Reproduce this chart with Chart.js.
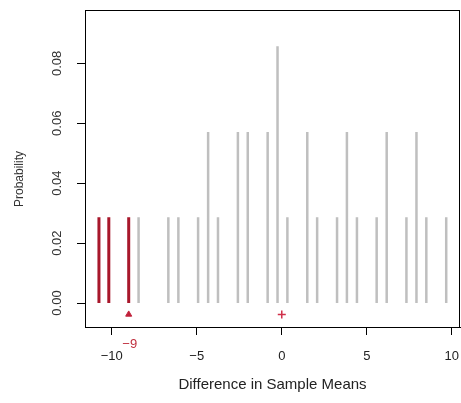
<!DOCTYPE html>
<html>
<head>
<meta charset="utf-8">
<script src="https://cdn.jsdelivr.net/npm/chart.js@4"></script>
<style>
  html, body { margin: 0; padding: 0; background: #fff; }
  #wrap { width: 461px; height: 403px; }
</style>
</head>
<body>
<div id="wrap"><canvas id="myChart"></canvas></div>
<script>
// permutation distribution of the difference in sample means
const diffs = [-10.75, -10.17, -9.0, -8.42, -6.67, -6.08, -4.92, -4.33, -3.75, -2.58, -2.0, -0.83, -0.25,
  0.33, 1.5, 2.08, 3.25, 3.83, 4.42, 5.58, 6.17, 7.33, 7.92, 8.5, 9.67];
const probs = [0.0286, 0.0286, 0.0286, 0.0286, 0.0286, 0.0286, 0.0286, 0.0571, 0.0286, 0.0571, 0.0571, 0.0571, 0.0857,
  0.0286, 0.0571, 0.0286, 0.0286, 0.0571, 0.0286, 0.0286, 0.0571, 0.0286, 0.0571, 0.0286, 0.0286];
const observed = -9;
const meanDiff = 0;
const xTicks = [-10, -5, 0, 5, 10];
const yTicks = [0, 0.02, 0.04, 0.06, 0.08];

const FONT = "'Liberation Sans', Arial, sans-serif";
const RED = "#a8172b";

// each spike is a little segment from 0 up to its probability, split by a gap
function spikes(keep) {
  const pts = [];
  diffs.forEach((d, i) => {
    if (!keep(d)) return;
    pts.push({ x: d, y: 0 }, { x: d, y: probs[i] }, { x: d, y: null });
  });
  return pts;
}

const boxPlugin = {
  id: "box",
  afterDraw(chart) {
    const ctx = chart.ctx;
    const a = chart.chartArea;
    const ys = chart.scales.y;
    const xs = chart.scales.x;
    ctx.save();
    ctx.strokeStyle = "#000";
    ctx.lineWidth = 1;
    ctx.strokeRect(a.left + 0.5, a.top + 0.5, a.right - a.left - 1, a.bottom - a.top);

    // rotated y tick labels, like R's default
    ctx.fillStyle = "#333";
    ctx.font = "13px " + FONT;
    ctx.textAlign = "center";
    ctx.textBaseline = "middle";
    yTicks.forEach(v => {
      ctx.save();
      ctx.translate(57, ys.getPixelForValue(v));
      ctx.rotate(-Math.PI / 2);
      ctx.fillText(v.toFixed(2), 0, 0);
      ctx.restore();
    });
    ctx.font = "12px " + FONT;
    ctx.save();
    ctx.translate(20, 179);
    ctx.rotate(-Math.PI / 2);
    ctx.fillText("Probability", 0, 0);
    ctx.restore();

    // observed value label under the axis
    ctx.fillStyle = "#c0303f";
    ctx.font = "13px " + FONT;
    ctx.fillText("\u22129", xs.getPixelForValue(observed) + 1, 344);
    ctx.restore();
  }
};

const config = {
  type: "scatter",
  data: {
    datasets: [
      {
        label: "permutations",
        data: spikes(d => d > observed),
        showLine: true,
        spanGaps: false,
        borderColor: "#bfbfbf",
        borderWidth: 2.5,
        pointRadius: 0,
      },
      {
        label: "as extreme",
        data: spikes(d => d <= observed),
        showLine: true,
        spanGaps: false,
        borderColor: RED,
        borderWidth: 3,
        pointRadius: 0,
      },
      {
        label: "observed",
        data: [{ x: observed, y: -0.0038 }],
        pointStyle: "triangle",
        pointRadius: 3.5,
        backgroundColor: "#c0203a",
        borderColor: "#c0203a",
        borderWidth: 1,
      },
      {
        label: "mean",
        data: [{ x: meanDiff, y: -0.0038 }],
        pointStyle: "cross",
        pointRadius: 4,
        borderColor: "#d0304a",
        borderWidth: 1.5,
      },
    ],
  },
  options: {
    responsive: true,
    maintainAspectRatio: false,
    animation: false,
    layout: { autoPadding: false, padding: { top: 10, right: 1, left: 0, bottom: 0 } },
    plugins: { legend: { display: false }, tooltip: { enabled: false } },
    scales: {
      x: {
        type: "linear",
        min: -11.57,
        max: 10.48,
        afterBuildTicks: s => { s.ticks = xTicks.map(v => ({ value: v })); },
        afterFit: s => { s.height = 76; s.paddingLeft = 0; s.paddingRight = 0; },
        grid: { drawOnChartArea: false, drawTicks: true, tickLength: 8, color: "#000" },
        border: { color: "#000", width: 1 },
        ticks: {
          color: "#222",
          padding: 14,
          font: { family: FONT, size: 13 },
          callback: v => String(v).replace("-", "\u2212"),
        },
        title: {
          display: true,
          text: "Difference in Sample Means",
          color: "#222",
          font: { family: FONT, size: 15 },
          padding: { top: 8, bottom: 9 },
        },
      },
      y: {
        type: "linear",
        min: -0.008,
        max: 0.0978,
        afterBuildTicks: s => { s.ticks = yTicks.map(v => ({ value: v })); },
        afterFit: s => { s.width = 85; s.paddingTop = 0; s.paddingBottom = 0; },
        grid: { drawOnChartArea: false, drawTicks: true, tickLength: 8, color: "#000" },
        border: { color: "#000", width: 1 },
        ticks: { color: "rgba(0,0,0,0)", font: { family: FONT, size: 13 } },
      },
    },
  },
  plugins: [boxPlugin],
};

const myChart = new Chart(document.getElementById("myChart"), config);
</script>
</body>
</html>
